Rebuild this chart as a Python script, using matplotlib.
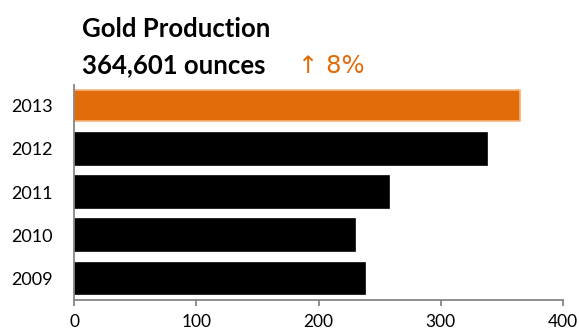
import matplotlib
matplotlib.use("Agg")
import matplotlib.pyplot as plt

years = ["2009", "2010", "2011", "2012", "2013"]
ounces_k = [238, 230, 258, 337.5, 364.601]
x_ticks = [0, 100, 200, 300, 400]

title_line1 = "Gold Production"
title_line2 = "364,601 ounces"
change_text = "\u2191 8%"

orange = "#E36C0A"
orange_edge = "#F8B27A"
gray = "#868686"

plt.rcParams["font.family"] = ["Lato", "DejaVu Sans"]

W, H = 579, 331
fig = plt.figure(figsize=(W / 100, H / 100), dpi=100)
ax = fig.add_axes([74 / W, 1 - 300 / H, (563 - 74) / W, (300 - 85) / H])

positions = list(range(len(years)))
colors = ["black"] * (len(years) - 1) + [orange]
edges = ["black"] * (len(years) - 1) + [orange_edge]
ax.barh(positions, ounces_k, height=0.73, color=colors, edgecolor=edges, linewidth=1.2)

ax.set_xlim(0, 400)
ax.set_ylim(-0.5, 4.48)
ax.set_xticks(x_ticks)
ax.set_xticklabels([str(t) for t in x_ticks], fontsize=12.5)
ax.set_yticks(positions)
ax.set_yticklabels(years, fontsize=13)

for side in ("top", "right"):
    ax.spines[side].set_visible(False)
for side in ("left", "bottom"):
    ax.spines[side].set_color(gray)
    ax.spines[side].set_linewidth(1.3)
ax.tick_params(axis="x", direction="out", length=4, width=1.3, color=gray, pad=6)
ax.tick_params(axis="y", length=0, pad=15)

fig.text(82 / W, 1 - 37 / H, title_line1, fontsize=18.5, fontweight="bold",
         va="baseline", ha="left")
fig.text(82 / W, 1 - 73 / H, title_line2, fontsize=18.5, fontweight="bold",
         va="baseline", ha="left")
fig.text(298 / W, 1 - 73 / H, change_text, fontsize=17.5, color=orange,
         va="baseline", ha="left", family=["DejaVu Sans"])

fig.savefig("out.png", dpi=100)
